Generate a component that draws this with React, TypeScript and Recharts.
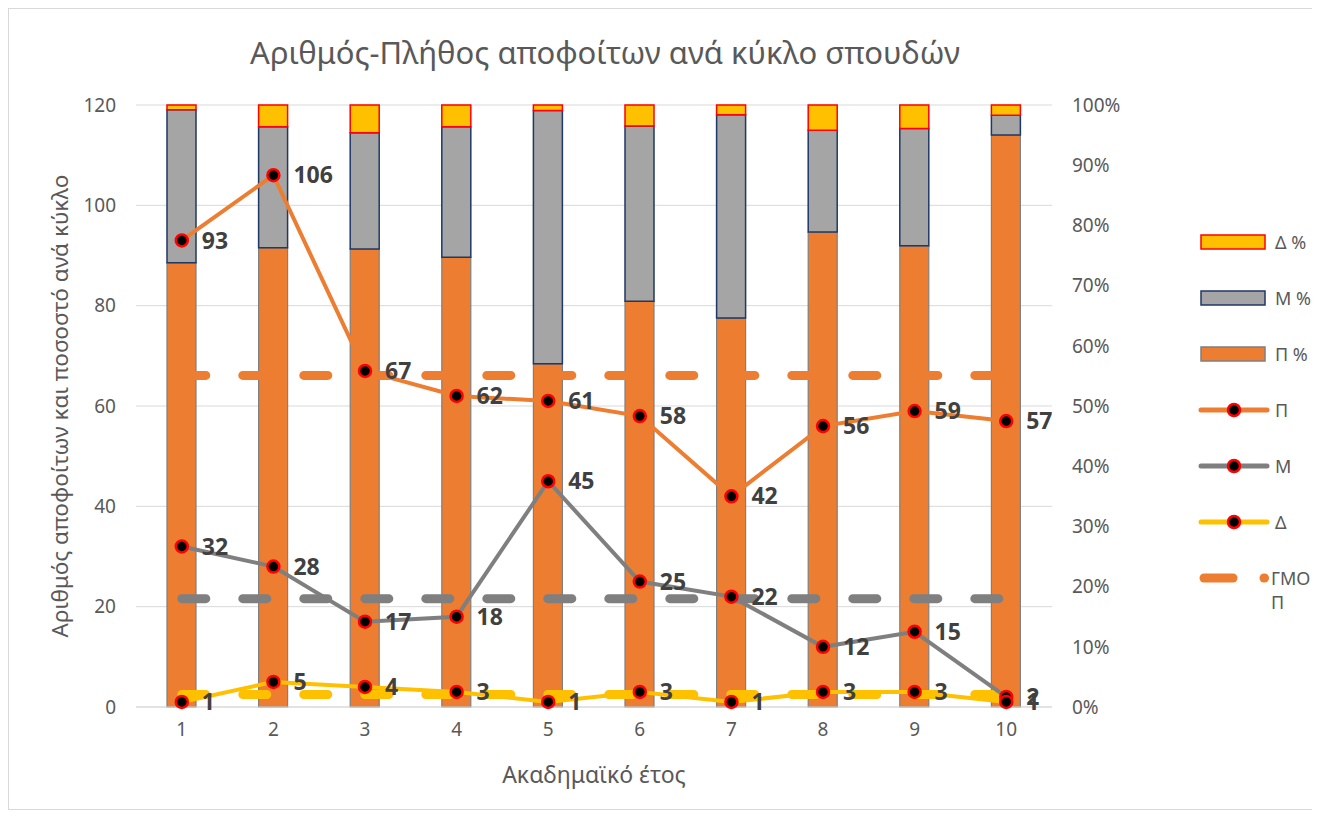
import {
  Bar,
  CartesianGrid,
  ComposedChart,
  LabelList,
  Legend,
  Line,
  XAxis,
  YAxis,
} from "recharts";

const YEARS = ["1", "2", "3", "4", "5", "6", "7", "8", "9", "10"];

// graduates per cycle
const GRAD_P = [93, 106, 67, 62, 61, 58, 42, 56, 59, 57];
const GRAD_M = [32, 28, 17, 18, 45, 25, 22, 12, 15, 2];
const GRAD_D = [1, 5, 4, 3, 1, 3, 1, 3, 3, 1];

// share per cycle (%)
const PCT_P = [73.8, 76.3, 76.1, 74.7, 57.0, 67.4, 64.6, 78.9, 76.6, 95.0];
const PCT_M = [25.4, 20.1, 19.3, 21.7, 42.1, 29.1, 33.8, 16.9, 19.5, 3.3];
const PCT_D = [0.8, 3.6, 4.6, 3.6, 0.9, 3.5, 1.6, 4.2, 3.9, 1.7];

// average lines
const AVG_P = 66.1;
const AVG_M = 21.6;
const AVG_D = 2.5;

const LEFT_TICKS = [0, 20, 40, 60, 80, 100, 120];
const RIGHT_TICKS = [0, 10, 20, 30, 40, 50, 60, 70, 80, 90, 100];

const ORANGE = "#ED7D31";
const GRAY = "#A5A5A5";
const DARK_GRAY = "#7F7F7F";
const YELLOW = "#FFC000";
const TEXT = "#595959";

const data = YEARS.map((year, i) => ({
  year,
  p: GRAD_P[i],
  m: GRAD_M[i],
  d: GRAD_D[i],
  pPct: PCT_P[i],
  mPct: PCT_M[i],
  dPct: PCT_D[i],
  avgP: AVG_P,
  avgM: AVG_M,
  avgD: AVG_D,
}));

type LegendItem = { name: string[]; kind: "bar" | "line" | "dash"; fill: string; stroke?: string };

const LEGEND: LegendItem[] = [
  { name: ["Δ %"], kind: "bar", fill: YELLOW, stroke: "#FF0000" },
  { name: ["Μ %"], kind: "bar", fill: GRAY, stroke: "#203864" },
  { name: ["Π %"], kind: "bar", fill: ORANGE, stroke: DARK_GRAY },
  { name: ["Π"], kind: "line", fill: ORANGE },
  { name: ["Μ"], kind: "line", fill: DARK_GRAY },
  { name: ["Δ"], kind: "line", fill: YELLOW },
  { name: ["ΓΜΟ", "Π"], kind: "dash", fill: ORANGE },
];

const ROW = 56;

function LegendIcon({ item, y }: { item: LegendItem; y: number }) {
  if (item.kind === "bar") {
    return <rect x={2} y={y - 7} width={64} height={14} fill={item.fill} stroke={item.stroke} strokeWidth={1.5} />;
  }
  if (item.kind === "line") {
    return (
      <g>
        <line x1={2} y1={y} x2={68} y2={y} stroke={item.fill} strokeWidth={5} strokeLinecap="round" />
        <circle cx={35} cy={y} r={6} fill="#000" stroke="#FF0000" strokeWidth={2.5} />
      </g>
    );
  }
  return (
    <g>
      <line x1={5} y1={y} x2={34} y2={y} stroke={item.fill} strokeWidth={9} strokeLinecap="round" />
      <line x1={65} y1={y} x2={65.5} y2={y} stroke={item.fill} strokeWidth={9} strokeLinecap="round" />
    </g>
  );
}

function LegendBox() {
  return (
    <svg width={120} height={ROW * LEGEND.length + 10} style={{ display: "block", overflow: "visible" }}>
      {LEGEND.map((item, i) => {
        const y = ROW / 2 + i * ROW;
        const tx = item.kind === "dash" ? 72 : 76;
        return (
          <g key={i}>
            <LegendIcon item={item} y={y} />
            <text x={tx} y={y} fill={TEXT} fontSize={18} dominantBaseline="central">
              {item.name.map((part, j) => (
                <tspan key={j} x={tx} dy={j === 0 ? 0 : 24}>
                  {part}
                </tspan>
              ))}
            </text>
          </g>
        );
      })}
    </svg>
  );
}

const labelStyle = { fill: "#404040", fontSize: 23, fontWeight: 700 };

export default function App() {
  return (
    <div
      style={{
        position: "relative",
        width: 1304,
        height: 800,
        borderTop: "1px solid #D9D9D9",
        borderLeft: "1px solid #D9D9D9",
        borderBottom: "1px solid #D9D9D9",
        background: "#fff",
        fontFamily: "'Noto Sans', sans-serif",
      }}
    >
      <div
        style={{
          position: "absolute",
          top: 22,
          left: 0,
          width: 1192,
          textAlign: "center",
          fontSize: 31,
          color: TEXT,
        }}
      >
        Αριθμός-Πλήθος αποφοίτων ανά κύκλο σπουδών
      </div>
      <ComposedChart
        width={1304}
        height={800}
        data={data}
        margin={{ top: 96, right: 81, left: 0, bottom: 22 }}
        barSize={29}
      >
        <CartesianGrid yAxisId="left" stroke="#D9D9D9" vertical={false} />
        <XAxis
          dataKey="year"
          height={80}
          tick={{ fill: TEXT, fontSize: 19 }}
          tickLine={false}
          tickSize={0}
          tickMargin={16}
          axisLine={{ stroke: "#D9D9D9" }}
          label={{ value: "Ακαδημαϊκό έτος", position: "insideBottom", offset: 4, fill: TEXT, fontSize: 23 }}
        />
        <YAxis
          yAxisId="left"
          width={127}
          domain={[0, 120]}
          ticks={LEFT_TICKS}
          tick={{ fill: TEXT, fontSize: 19 }}
          tickLine={false}
          tickSize={0}
          tickMargin={20}
          axisLine={false}
          label={{
            value: "Αριθμός αποφοίτων  και ποσοστό ανά κύκλο",
            angle: -90,
            position: "insideLeft",
            offset: 51,
            fill: TEXT,
            fontSize: 22.5,
            style: { textAnchor: "middle" },
          }}
        />
        <YAxis
          yAxisId="right"
          orientation="right"
          width={60}
          domain={[0, 100]}
          ticks={RIGHT_TICKS}
          tickFormatter={(v) => `${v}%`}
          tick={{ fill: TEXT, fontSize: 19 }}
          tickLine={false}
          tickSize={0}
          tickMargin={20}
          axisLine={false}
        />
        <Legend
          content={<LegendBox />}
          layout="vertical"
          align="right"
          verticalAlign="top"
          wrapperStyle={{ position: "absolute", left: 1190, top: 205, width: 120 }}
        />

        <Bar yAxisId="right" dataKey="pPct" name="Π %" stackId="pct" fill={ORANGE} stroke={DARK_GRAY} strokeWidth={1.2} isAnimationActive={false} />
        <Bar yAxisId="right" dataKey="mPct" name="Μ %" stackId="pct" fill={GRAY} stroke="#203864" strokeWidth={1.5} isAnimationActive={false} />
        <Bar yAxisId="right" dataKey="dPct" name="Δ %" stackId="pct" fill={YELLOW} stroke="#FF0000" strokeWidth={1.5} isAnimationActive={false} />

        <Line yAxisId="left" dataKey="avgP" name="ΓΜΟ Π" stroke={ORANGE} strokeWidth={9} strokeDasharray="24 37" strokeLinecap="round" dot={false} activeDot={false} isAnimationActive={false} />
        <Line yAxisId="left" dataKey="avgM" name="ΓΜΟ Μ" stroke={DARK_GRAY} strokeWidth={9} strokeDasharray="24 37" strokeLinecap="round" dot={false} activeDot={false} legendType="none" isAnimationActive={false} />
        <Line yAxisId="left" dataKey="avgD" name="ΓΜΟ Δ" stroke={YELLOW} strokeWidth={9} strokeDasharray="24 37" strokeLinecap="round" dot={false} activeDot={false} legendType="none" isAnimationActive={false} />

        <Line yAxisId="left" dataKey="p" name="Π" stroke={ORANGE} strokeWidth={4} dot={{ r: 6, fill: "#000", stroke: "#FF0000", strokeWidth: 2.5 }} activeDot={false} isAnimationActive={false}>
          <LabelList dataKey="p" position="right" offset={20} style={labelStyle} />
        </Line>
        <Line yAxisId="left" dataKey="m" name="Μ" stroke={DARK_GRAY} strokeWidth={4} dot={{ r: 6, fill: "#000", stroke: "#FF0000", strokeWidth: 2.5 }} activeDot={false} isAnimationActive={false}>
          <LabelList dataKey="m" position="right" offset={20} style={labelStyle} />
        </Line>
        <Line yAxisId="left" dataKey="d" name="Δ" stroke={YELLOW} strokeWidth={4} dot={{ r: 6, fill: "#000", stroke: "#FF0000", strokeWidth: 2.5 }} activeDot={false} isAnimationActive={false}>
          <LabelList dataKey="d" position="right" offset={20} style={labelStyle} />
        </Line>
      </ComposedChart>
    </div>
  );
}
